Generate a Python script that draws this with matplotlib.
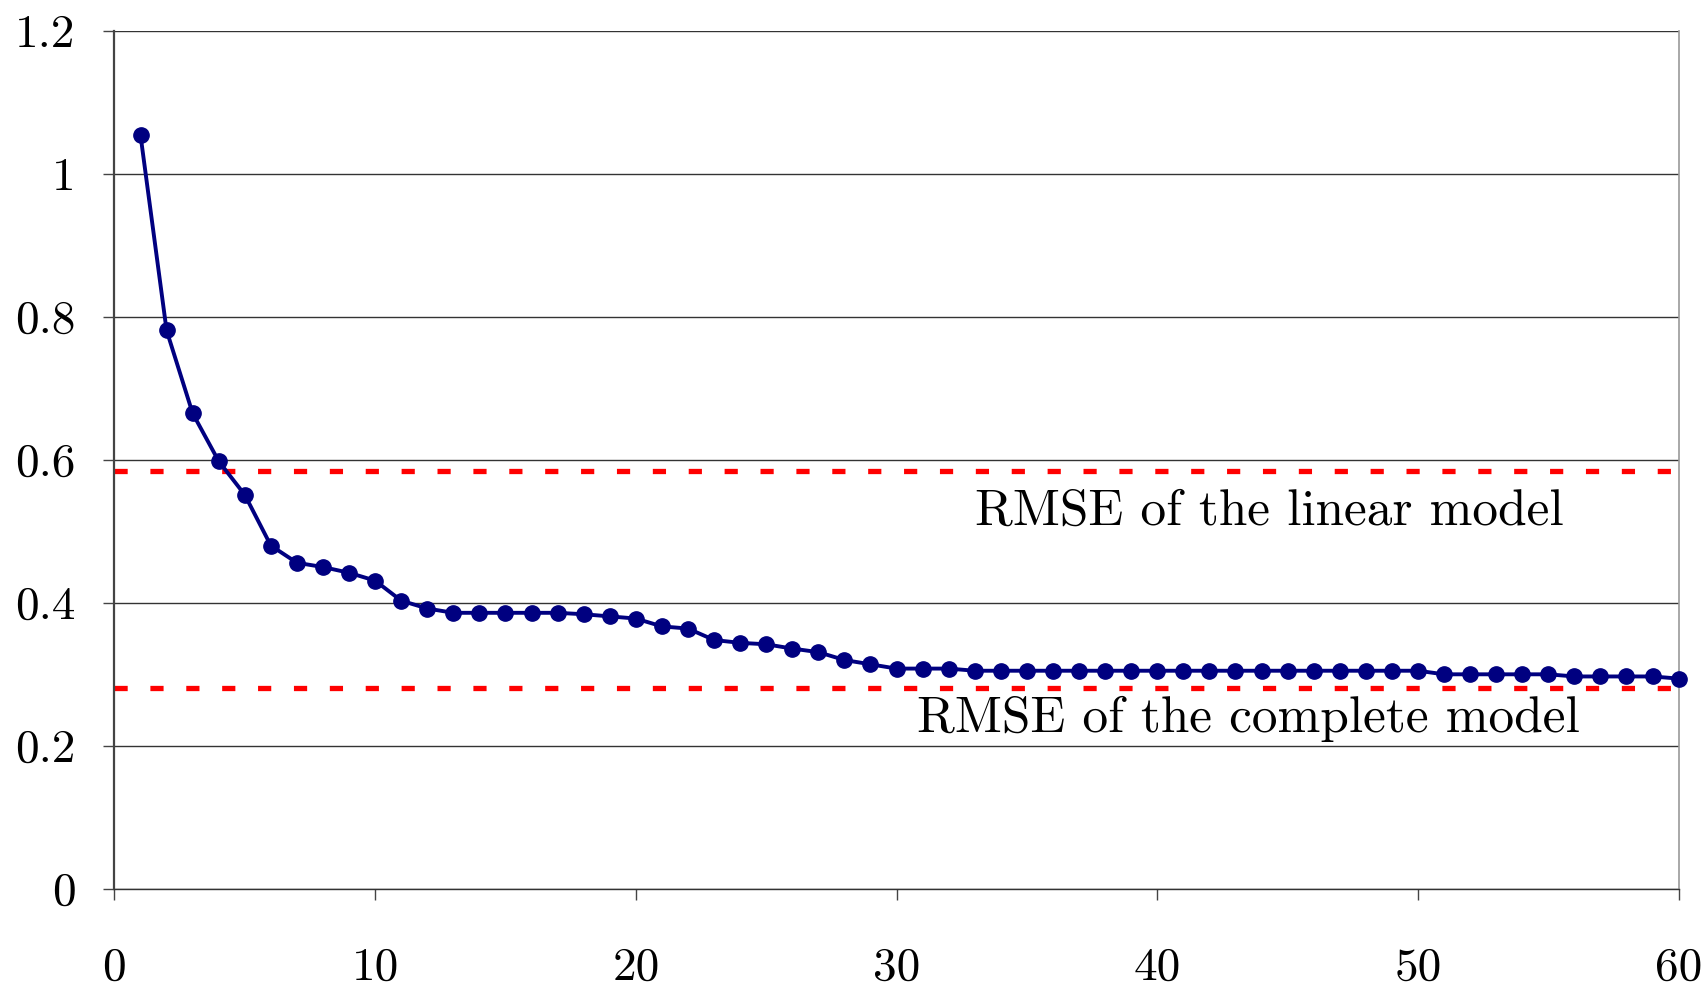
import matplotlib
matplotlib.use("Agg")
import matplotlib.pyplot as plt

plt.rcParams['font.family'] = ['cmr10', 'DejaVu Serif']
plt.rcParams['axes.formatter.use_mathtext'] = True

# components used
n_comp = list(range(1, 61))
rmse = [1.054, 0.781, 0.665, 0.598, 0.551, 0.480, 0.456, 0.450, 0.442, 0.431,
        0.403, 0.392, 0.386, 0.386, 0.386, 0.386, 0.386, 0.384, 0.381, 0.378,
        0.367, 0.364, 0.348, 0.344, 0.342, 0.336, 0.331, 0.320, 0.314, 0.308,
        0.308, 0.308, 0.305, 0.305, 0.305, 0.305, 0.305, 0.305, 0.305, 0.305,
        0.305, 0.305, 0.305, 0.305, 0.305, 0.305, 0.305, 0.305, 0.305, 0.305,
        0.300, 0.300, 0.300, 0.300, 0.300, 0.297, 0.297, 0.297, 0.297, 0.294]

rmse_linear = 0.584
rmse_complete = 0.281

xticks = [0, 10, 20, 30, 40, 50, 60]
yticks = [0, 0.2, 0.4, 0.6, 0.8, 1.0, 1.2]
ytick_labels = ["0", "0.2", "0.4", "0.6", "0.8", "1", "1.2"]

fig = plt.figure(figsize=(17.08, 9.92), dpi=100)
ax = fig.add_axes([0.067, 0.104, 0.9158, 0.865])

ax.set_axisbelow(True)
ax.grid(True, axis='y', color='#333333', lw=1.0)

ax.axhline(rmse_linear, color='#ff0000', lw=3.8, dashes=(2.5, 4.3))
ax.axhline(rmse_complete, color='#ff0000', lw=3.8, dashes=(2.5, 4.3))

ax.plot(n_comp, rmse, '-o', color='#000080', lw=2.8, ms=11, clip_on=False, zorder=5)

ax.text(44.3, 0.528, "RMSE of the linear model", fontsize=37, ha='center', va='center')
ax.text(43.5, 0.237, "RMSE of the complete model", fontsize=37, ha='center', va='center')

ax.set_xlim(0, 60)
ax.set_ylim(0, 1.2)
ax.set_xticks(xticks)
ax.set_xticklabels([str(t) for t in xticks])
ax.set_yticks(yticks)
ax.set_yticklabels(ytick_labels)
ax.tick_params(axis='both', labelsize=34, length=8, width=1.0, color='#444444')
ax.tick_params(axis='x', pad=34)
ax.tick_params(axis='y', pad=20)

ax.spines['top'].set_visible(False)
ax.spines['left'].set_color('#444444')
ax.spines['left'].set_linewidth(1.6)
ax.spines['bottom'].set_color('#333333')
ax.spines['bottom'].set_linewidth(1.0)
ax.spines['right'].set_color('#999999')
ax.spines['right'].set_linewidth(1.2)

fig.savefig("out.png", dpi=100)
